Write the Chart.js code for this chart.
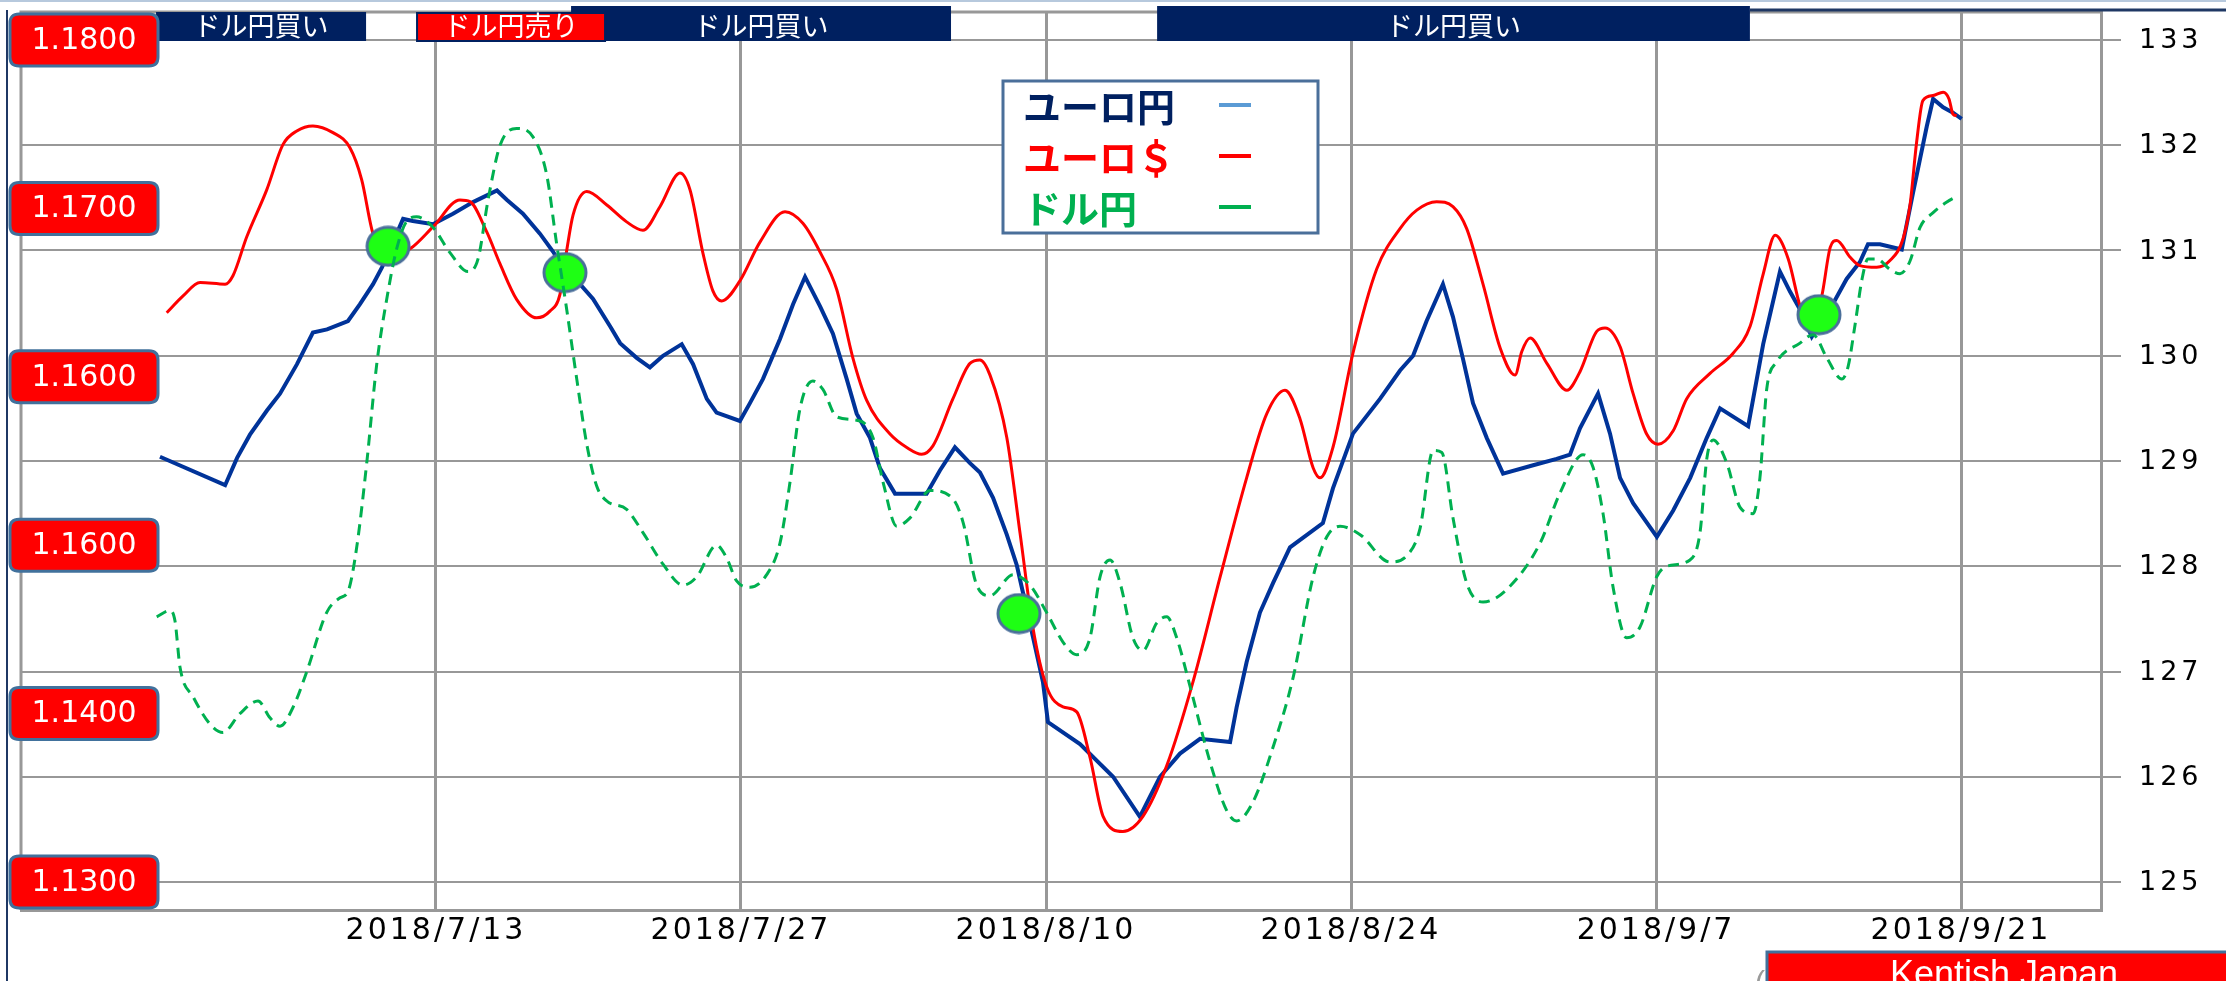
<!DOCTYPE html>
<html><head><meta charset="utf-8">
<script src="https://cdn.jsdelivr.net/npm/chart.js@4.4.0/dist/chart.umd.min.js"></script>
<style>html,body{margin:0;padding:0;background:#fff;overflow:hidden}canvas{display:block}</style>
</head><body>
<canvas id="c" width="2226" height="981" style="width:2226px;height:981px"></canvas>
<script>
// ---- data (x = days since 2018-07-01) ----
const BASE_DATE = '2018-07-01';
const tickDates = ['2018-07-13','2018-07-27','2018-08-10','2018-08-24','2018-09-07','2018-09-21'];
const tickLabels = ['2018/7/13','2018/7/27','2018/8/10','2018/8/24','2018/9/7','2018/9/21'];
const seriesNames = ['ユーロ円','ユーロ＄','ドル円'];

const eurJpyDays = [-0.67,2.32,2.87,3.46,4.24,4.84,5.62,6.35,7.00,7.96,8.51,9.11,9.52,10.49,10.94,11.86,12.78,13.70,14.80,15.26,15.99,16.77,17.37,17.92,18.61,19.21,19.99,20.45,21.21,21.82,22.42,23.28,23.80,24.43,24.88,25.95,26.41,27.01,27.79,28.39,28.94,29.63,30.22,30.85,31.31,31.92,32.38,33.07,34.52,35.13,35.82,36.51,36.97,37.57,38.20,38.66,39.40,39.86,40.09,41.56,43.08,44.31,45.23,46.15,47.07,48.45,48.75,49.21,49.82,50.42,51.20,52.71,53.17,54.09,55.33,56.25,56.85,57.47,58.22,58.68,59.14,59.60,60.23,60.98,62.36,63.44,64.05,64.51,65.34,65.89,66.35,66.95,68.04,68.79,69.57,70.33,70.94,72.23,72.46,72.92,73.69,74.15,74.61,75.15,76.22,76.75,77.36,77.73,78.28,79.28,79.51,79.80,80.12,80.43,80.72,81.18,81.63,82.03];
const eurJpyValues = [129.04,128.77,129.03,129.25,129.48,129.64,129.92,130.22,130.25,130.33,130.49,130.68,130.84,131.30,131.28,131.25,131.35,131.46,131.57,131.48,131.35,131.16,130.99,130.81,130.68,130.54,130.28,130.12,129.98,129.89,130.00,130.11,129.92,129.59,129.46,129.38,129.55,129.78,130.16,130.49,130.75,130.47,130.21,129.78,129.45,129.22,128.93,128.69,128.69,128.91,129.13,128.98,128.89,128.65,128.30,128.01,127.33,126.90,126.52,126.31,126.00,125.62,126.00,126.22,126.36,126.33,126.66,127.09,127.56,127.84,128.18,128.41,128.74,129.26,129.59,129.86,130.00,130.33,130.68,130.37,129.97,129.55,129.22,128.88,128.96,129.02,129.06,129.31,129.64,129.26,128.84,128.60,128.28,128.53,128.84,129.22,129.50,129.33,129.59,130.11,130.80,130.61,130.44,130.18,130.53,130.73,130.89,131.06,131.06,131.01,131.25,131.55,131.87,132.18,132.44,132.36,132.31,132.25];

const eurUsdDays = [-0.36,0.39,1.17,2.32,2.68,3.31,4.23,4.98,5.61,6.35,7.27,8.05,8.59,9.11,9.98,10.81,11.86,13.10,13.56,14.33,14.94,15.70,16.62,17.23,17.69,18.00,18.29,18.92,19.84,20.75,21.50,22.28,23.20,23.66,24.26,24.71,25.11,25.95,26.87,28.02,28.85,29.63,30.39,31.14,31.77,32.84,33.61,34.29,34.81,35.73,36.51,36.97,37.43,38.20,38.81,39.40,40.03,40.78,41.41,42.02,42.62,43.53,44.45,45.54,46.75,47.99,49.21,50.13,50.97,51.66,52.26,52.58,53.17,54.09,55.18,56.25,57.02,57.93,58.68,59.31,60.06,60.85,61.53,61.84,62.22,62.99,63.91,64.51,65.28,65.66,66.35,66.95,67.57,68.09,68.79,69.41,70.48,71.54,72.32,72.92,73.47,74.07,74.61,75.07,75.61,76.00,76.30,76.91,77.36,78.13,78.74,79.34,79.66,79.96,80.25,80.72,81.18,81.45,81.63,81.80];
const eurUsdValues = [1.1638,1.1648,1.1656,1.1655,1.1660,1.1683,1.1711,1.1738,1.1746,1.1749,1.1745,1.1736,1.1717,1.1685,1.1672,1.1676,1.1689,1.1705,1.1704,1.1686,1.1667,1.1646,1.1635,1.1639,1.1649,1.1675,1.1696,1.1710,1.1702,1.1692,1.1687,1.1701,1.1721,1.1711,1.1673,1.1651,1.1645,1.1657,1.1680,1.1698,1.1691,1.1674,1.1652,1.1611,1.1586,1.1566,1.1558,1.1554,1.1559,1.1587,1.1608,1.1610,1.1601,1.1564,1.1507,1.1451,1.1416,1.1404,1.1401,1.1374,1.1339,1.1330,1.1339,1.1369,1.1419,1.1481,1.1540,1.1578,1.1592,1.1575,1.1546,1.1540,1.1558,1.1614,1.1664,1.1688,1.1699,1.1704,1.1701,1.1688,1.1655,1.1617,1.1601,1.1615,1.1623,1.1608,1.1592,1.1603,1.1627,1.1629,1.1618,1.1590,1.1566,1.1560,1.1568,1.1587,1.1602,1.1614,1.1630,1.1661,1.1684,1.1670,1.1642,1.1628,1.1648,1.1677,1.1681,1.1671,1.1666,1.1665,1.1669,1.1682,1.1702,1.1739,1.1764,1.1767,1.1769,1.1765,1.1756,1.1755];

const usdJpyDays = [-0.82,-0.21,0.02,0.25,0.85,1.63,2.22,3.00,3.83,4.38,4.84,5.44,6.07,6.98,7.59,7.96,8.36,8.82,9.28,9.74,10.20,10.66,11.11,11.86,12.64,13.47,13.93,14.39,14.94,15.70,16.45,17.08,17.54,18.00,18.46,18.92,19.38,19.84,20.75,21.50,22.42,23.34,23.97,24.88,25.34,25.80,26.41,27.18,27.79,28.25,28.71,29.30,29.76,30.39,31.46,32.06,32.52,33.15,33.76,34.68,35.73,36.19,36.82,37.43,38.49,39.27,40.03,40.78,41.41,42.02,42.48,42.94,43.40,43.99,44.45,45.08,45.54,46.00,46.61,47.53,48.29,48.75,49.50,50.42,51.34,52.26,52.89,53.50,54.42,55.79,56.56,57.17,57.77,58.17,58.68,59.31,60.06,61.15,62.68,63.60,64.65,65.11,65.57,66.03,66.65,67.26,68.03,68.49,69.56,70.02,70.33,70.62,71.25,71.86,72.46,72.77,73.08,73.54,74.61,75.21,75.84,76.53,76.82,77.14,77.45,77.73,78.13,78.74,79.20,79.66,80.12,80.72,81.35,81.86];
const usdJpyValues = [110.76,110.79,110.74,110.52,110.38,110.25,110.21,110.30,110.36,110.28,110.24,110.33,110.50,110.78,110.85,110.88,111.09,111.49,111.96,112.27,112.51,112.64,112.66,112.61,112.49,112.40,112.46,112.74,113.00,113.08,113.04,112.86,112.53,112.22,111.89,111.58,111.38,111.31,111.27,111.16,111.01,110.91,110.95,111.10,111.04,110.93,110.90,110.96,111.11,111.40,111.75,111.88,111.84,111.71,111.69,111.61,111.40,111.19,111.23,111.36,111.32,111.21,110.91,110.86,110.96,110.91,110.78,110.64,110.58,110.66,110.95,111.03,110.92,110.66,110.60,110.73,110.76,110.66,110.43,110.07,109.84,109.79,109.88,110.14,110.47,110.95,111.14,111.19,111.15,111.02,111.05,111.18,111.55,111.54,111.23,110.92,110.83,110.89,111.11,111.35,111.53,111.47,111.25,110.90,110.66,110.71,110.95,111.00,111.03,111.16,111.51,111.60,111.49,111.28,111.25,111.42,111.84,111.97,112.06,112.10,111.99,111.89,111.95,112.15,112.36,112.46,112.46,112.41,112.39,112.45,112.61,112.68,112.73,112.76];

const signalDays = [9.80,17.92,38.76,75.48];
const signalValues = [131.04,130.79,127.55,130.39];

const eurJpyTicks = [125,126,127,128,129,130,131,132,133];
const eurUsdTicks = [1.18,1.17,1.16,1.15,1.14,1.13];
const eurUsdTickLabels = ['1.1800','1.1700','1.1600','1.1600','1.1400','1.1300'];
const bannerLabels = ['ドル円買い','ドル円売り','ドル円買い','ドル円買い'];

// ---- helpers ----
const dayOf = s => (Date.parse(s) - Date.parse(BASE_DATE)) / 864e5;
const tickDays = tickDates.map(dayOf);
const toXY = (xs, ys) => xs.map((x, i) => ({x: x, y: ys[i]}));

const ellipseImg = document.createElement('canvas');
ellipseImg.width = 46; ellipseImg.height = 42;
(function(){
  const ec = ellipseImg.getContext('2d');
  ec.beginPath(); ec.ellipse(23, 21, 21, 19, 0, 0, Math.PI * 2);
  ec.fillStyle = '#1eff14'; ec.fill();
  ec.lineWidth = 3; ec.strokeStyle = '#4a6f9a'; ec.stroke();
})();

function roundRect(ctx, x, y, w, h, r) {
  ctx.beginPath();
  ctx.moveTo(x + r, y); ctx.lineTo(x + w - r, y); ctx.quadraticCurveTo(x + w, y, x + w, y + r);
  ctx.lineTo(x + w, y + h - r); ctx.quadraticCurveTo(x + w, y + h, x + w - r, y + h);
  ctx.lineTo(x + r, y + h); ctx.quadraticCurveTo(x, y + h, x, y + h - r);
  ctx.lineTo(x, y + r); ctx.quadraticCurveTo(x, y, x + r, y); ctx.closePath();
}

const decor = {
  id: 'decor',
  beforeDraw(chart) { chart.ctx.letterSpacing = '3px'; },
  beforeDatasetsDraw(chart) {
    const ctx = chart.ctx, a = chart.chartArea;
    ctx.letterSpacing = '0px';
    ctx.save();
    ctx.strokeStyle = '#989898'; ctx.lineWidth = 3;
    ctx.beginPath(); ctx.moveTo(a.left, a.bottom); ctx.lineTo(a.left, a.top); ctx.lineTo(a.right, a.top); ctx.stroke();
    ctx.restore();
  },
  afterDraw(chart) {
    const ctx = chart.ctx, xs = chart.scales.x, yL = chart.scales.yL, yR = chart.scales.yR;
    ctx.save();
    // right axis labels
    ctx.letterSpacing = '4px';
    ctx.font = '27px "DejaVu Sans"'; ctx.fillStyle = '#000';
    ctx.textAlign = 'left'; ctx.textBaseline = 'middle';
    eurJpyTicks.forEach(v => ctx.fillText(String(v), 2139, yR.getPixelForValue(v) + 1));
    ctx.letterSpacing = '0px';
    // outer frame lines
    ctx.strokeStyle = '#b7c9dd'; ctx.lineWidth = 2;
    ctx.beginPath(); ctx.moveTo(0, 1); ctx.lineTo(2226, 1); ctx.stroke();
    ctx.strokeStyle = '#1f3864'; ctx.lineWidth = 3;
    ctx.beginPath(); ctx.moveTo(1750, 10); ctx.lineTo(2226, 10); ctx.stroke();
    ctx.lineWidth = 2;
    ctx.beginPath(); ctx.moveTo(7, 10); ctx.lineTo(7, 981); ctx.stroke();

    // banners (day spans)
    const spans = [[-0.85, 8.79, 12, '#002060', null], [18.2, 35.64, 6, '#002060', null], [11.13, 19.76, 13, '#ff0000', '#002060'], [45.1, 72.31, 6, '#002060', null]];
    const labelIdx = [0, 2, 1, 3];
    ctx.font = '27px "Noto Sans CJK JP"';
    ctx.textAlign = 'center'; ctx.textBaseline = 'middle';
    spans.forEach((s, k) => {
      const x0 = xs.getPixelForValue(s[0]), x1 = xs.getPixelForValue(s[1]);
      ctx.fillStyle = s[3];
      ctx.fillRect(x0, s[2], x1 - x0, 41 - s[2]);
      if (s[4]) { ctx.strokeStyle = s[4]; ctx.lineWidth = 2; ctx.strokeRect(x0, s[2], x1 - x0, 41 - s[2]); }
      ctx.fillStyle = '#ffffff';
      ctx.fillText(bannerLabels[labelIdx[k]], (x0 + x1) / 2, 26);
    });

    // left value boxes
    ctx.font = '30px "DejaVu Sans"';
    eurUsdTicks.forEach((v, i) => {
      const cy = yL.getPixelForValue(v);
      roundRect(ctx, 10, cy - 26, 148, 52, 9);
      ctx.fillStyle = '#ff0000'; ctx.fill();
      ctx.strokeStyle = '#41719c'; ctx.lineWidth = 3; ctx.stroke();
      ctx.fillStyle = '#ffffff';
      ctx.fillText(eurUsdTickLabels[i], 84, cy + 1);
    });

    // legend
    const L = {x: 1003, y: 81, w: 315, h: 152};
    ctx.fillStyle = '#ffffff'; ctx.fillRect(L.x, L.y, L.w, L.h);
    ctx.strokeStyle = '#4a6f9a'; ctx.lineWidth = 3; ctx.strokeRect(L.x, L.y, L.w, L.h);
    const txtColors = ['#002060', '#ff0000', '#00b050'];
    const markColors = ['#5b9bd5', '#ff0000', '#00b050'];
    ctx.font = 'bold 38px "Noto Sans CJK JP"';
    ctx.textAlign = 'left';
    seriesNames.forEach((n, i) => {
      const cy = L.y + 24 + i * 51;
      ctx.fillStyle = txtColors[i];
      ctx.fillText(n, L.x + 20, cy + 2);
      ctx.strokeStyle = markColors[i]; ctx.lineWidth = 4;
      ctx.beginPath(); ctx.moveTo(L.x + 216, cy); ctx.lineTo(L.x + 248, cy); ctx.stroke();
    });

    // footer box
    ctx.fillStyle = '#ff0000'; ctx.fillRect(1767, 951, 459, 30);
    ctx.strokeStyle = '#41719c'; ctx.lineWidth = 3;
    ctx.beginPath(); ctx.moveTo(1767, 981); ctx.lineTo(1767, 952); ctx.lineTo(2226, 952); ctx.stroke();
    ctx.fillStyle = '#ffffff'; ctx.font = '36px "Liberation Sans"';
    ctx.textAlign = 'center'; ctx.textBaseline = 'alphabetic';
    ctx.fillText('Kentish Japan', 2004, 986);
    ctx.fillStyle = '#9a9a9a'; ctx.font = '30px "Liberation Sans"';
    ctx.fillText('(', 1760, 992);
    ctx.restore();
  }
};

const X_MIN = -7.049, X_MAX = 88.426;

new Chart(document.getElementById('c'), {
  type: 'line',
  data: { datasets: [
    { label: seriesNames[2], data: toXY(usdJpyDays, usdJpyValues), yAxisID: 'yG', borderColor: '#00b050', borderWidth: 3, borderDash: [11, 7], pointRadius: 0, cubicInterpolationMode: 'monotone', fill: false },
    { label: 'signal', data: toXY(signalDays, signalValues), yAxisID: 'yR', showLine: false, pointStyle: ellipseImg, pointRadius: 21 },
    { label: seriesNames[1], data: toXY(eurUsdDays, eurUsdValues), yAxisID: 'yL', borderColor: '#ff0000', borderWidth: 3, pointRadius: 0, cubicInterpolationMode: 'monotone', fill: false },
    { label: seriesNames[0], data: toXY(eurJpyDays, eurJpyValues), yAxisID: 'yR', borderColor: '#003399', borderWidth: 4, pointRadius: 0, tension: 0, fill: false }
  ]},
  options: {
    responsive: false, animation: false, devicePixelRatio: 1, events: [],
    layout: { autoPadding: false, padding: { left: 21, top: 12, right: 0, bottom: 0 } },
    plugins: { legend: { display: false }, tooltip: { enabled: false } },
    scales: {
      x: {
        type: 'linear', position: 'bottom', min: X_MIN, max: X_MAX,
        afterBuildTicks: s => { s.ticks = tickDays.map(v => ({value: v})); },
        afterFit: s => { s.height = 71; s.paddingLeft = 0; s.paddingRight = 0; },
        grid: { color: '#989898', lineWidth: 3, drawTicks: false },
        border: { display: true, color: '#989898', width: 3 },
        ticks: { autoSkip: false, maxRotation: 0, minRotation: 0, padding: 3, color: '#000', font: { family: 'DejaVu Sans', size: 30 }, callback: (v, i) => tickLabels[i] }
      },
      yR: {
        type: 'linear', position: 'right', min: 124.734, max: 133.266,
        afterBuildTicks: s => { s.ticks = eurJpyTicks.map(v => ({value: v})); },
        afterFit: s => { s.width = 125; s.paddingTop = 0; s.paddingBottom = 0; },
        grid: { color: '#989898', lineWidth: 2, tickLength: 20 },
        border: { display: true, color: '#989898', width: 3 },
        ticks: { display: false }
      },
      yL: { display: false, type: 'linear', position: 'left', min: 1.128337, max: 1.181663 },
      yG: { display: false, type: 'linear', position: 'left', min: 109.367, max: 113.633 }
    }
  },
  plugins: [decor]
});
</script>
</body></html>
